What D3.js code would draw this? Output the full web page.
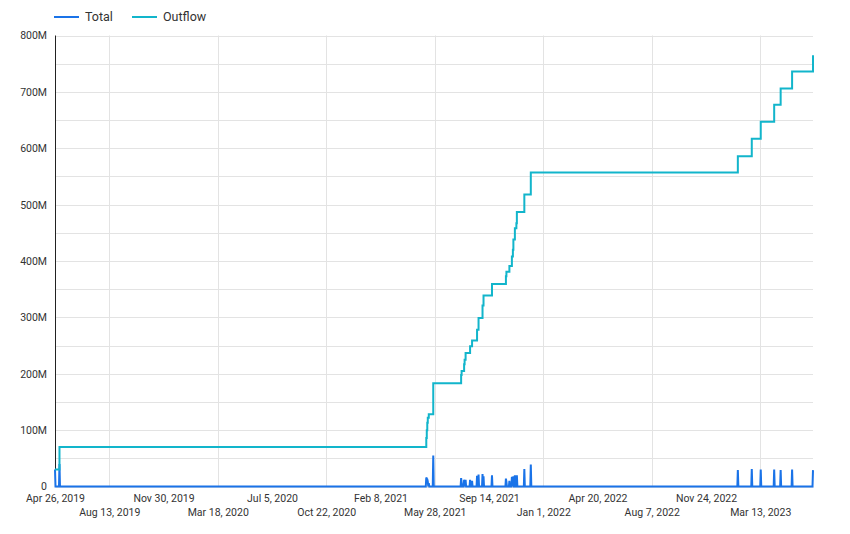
<!DOCTYPE html>
<html><head><meta charset="utf-8">
<script src="https://cdn.jsdelivr.net/npm/d3@7"></script>
<style>body{margin:0;background:#fff;} svg{display:block;font-family:Roboto, sans-serif;}</style>
</head><body><svg id="c" width="850" height="534"></svg>
<script>
// ---- data (values in millions) ----
const seriesNames = ["Total", "Outflow"];
const seriesColors = ["#1a73e8", "#12b5cb"];

const totalDates = ["2019-04-26","2019-05-05","2021-05-11","2021-05-12","2021-05-13","2021-05-14","2021-05-16","2021-05-25",
  "2021-07-20","2021-07-21","2021-07-26","2021-07-27","2021-07-29","2021-08-07","2021-08-11","2021-08-21","2021-08-24",
  "2021-09-01","2021-09-03","2021-09-20","2021-10-18","2021-10-19","2021-10-25","2021-10-30","2021-11-01","2021-11-02",
  "2021-11-05","2021-11-08","2021-11-09","2021-11-24","2021-12-07","2023-01-27","2023-02-24","2023-03-14","2023-04-10",
  "2023-04-23","2023-05-16","2023-06-27"];
const totalValues = [30,40,16,14,13,9,6,55,
  15,7,12,8,12,12,10,19,21,
  22,18,20,14,8,10,17,12,18,
  20,9,20,31,39,29,31,30,30,
  29,30,29];

const outflowDates = totalDates;
const outflowValues = [30,70,86,100,113,122,128,183,
  198,205,217,225,237,249,259,278,299,
  321,339,359,373,381,391,408,420,438,
  458,467,487,518,557,586,617,647,677,
  706,736,765];

const yTicks = [0,100,200,300,400,500,600,700,800];
const yGrid = [50,100,150,200,250,300,350,400,450,500,550,600,650,700,750,800];
const xTickLabels = ["Apr 26, 2019","Aug 13, 2019","Nov 30, 2019","Mar 18, 2020","Jul 5, 2020","Oct 22, 2020",
  "Feb 8, 2021","May 28, 2021","Sep 14, 2021","Jan 1, 2022","Apr 20, 2022","Aug 7, 2022","Nov 24, 2022","Mar 13, 2023"];
const domainStart = "2019-04-26", domainEnd = "2023-06-27";

// ---- drawing ----
const parse = d3.timeParse("%Y-%m-%d");
const parseLabel = d3.timeParse("%b %d, %Y");
const svg = d3.select("#c");

const x = d3.scaleTime().domain([parse(domainStart), parse(domainEnd)]).range([55, 813]);
const y = d3.scaleLinear().domain([0, 800]).range([486.5, 35.5]);

const tickDates = xTickLabels.map(parseLabel);

// gridlines
svg.append("g").selectAll("line").data(yGrid).join("line")
  .attr("x1", 55).attr("x2", 813)
  .attr("y1", d => Math.round(y(d)) + 0.5).attr("y2", d => Math.round(y(d)) + 0.5)
  .attr("stroke", "#e3e3e3").attr("stroke-width", 1);
svg.append("g").selectAll("line").data(tickDates.filter((d, i) => i % 2 === 1)).join("line")
  .attr("x1", d => Math.round(x(d)) + 0.5).attr("x2", d => Math.round(x(d)) + 0.5)
  .attr("y1", y(800)).attr("y2", y(0))
  .attr("stroke", "#e3e3e3").attr("stroke-width", 1);

// y axis
const yAxis = svg.append("g").attr("transform", "translate(55,0)")
  .call(d3.axisLeft(y).tickValues(yTicks).tickSize(0).tickPadding(8)
    .tickFormat(v => v === 0 ? "0" : v + "M"));
yAxis.select(".domain").remove();
yAxis.selectAll("text").attr("font-size", 10.5).attr("fill", "#333").attr("font-family", "Roboto, sans-serif");

// x axis
const xAxis = svg.append("g").attr("transform", `translate(0,${y(0)})`)
  .call(d3.axisBottom(x).tickValues(tickDates).tickSize(0).tickPadding(8)
    .tickFormat((d, i) => xTickLabels[i]));
xAxis.select(".domain").attr("stroke", "#ccc");
xAxis.selectAll("text").attr("font-size", 10.5).attr("fill", "#333").attr("font-family", "Roboto, sans-serif")
  .attr("y", (d, i) => i % 2 === 1 ? 22 : 8);

// left axis line
svg.append("line").attr("x1", 55.5).attr("x2", 55.5).attr("y1", y(800)).attr("y2", y(0))
  .attr("stroke", "#222").attr("stroke-width", 1);

// Total daily series (0 on days without a transaction)
const totalMap = new Map(totalDates.map((d, i) => [d, totalValues[i]]));
const fmt = d3.timeFormat("%Y-%m-%d");
const days = d3.timeDay.range(parse(domainStart), d3.timeDay.offset(parse(domainEnd), 1));
const totalSeries = days.map(d => ({ date: d, v: totalMap.get(fmt(d)) || 0 }));

svg.append("path").datum(totalSeries)
  .attr("fill", "none").attr("stroke", seriesColors[0]).attr("stroke-width", 2)
  .attr("d", d3.line().x(d => x(d.date)).y(d => y(d.v)));

// Outflow cumulative
const outSeries = outflowDates.map((d, i) => ({ date: parse(d), v: outflowValues[i] }));
svg.append("path").datum(outSeries)
  .attr("fill", "none").attr("stroke", seriesColors[1]).attr("stroke-width", 2)
  .attr("d", d3.line().curve(d3.curveStepAfter).x(d => x(d.date)).y(d => y(d.v)));

// legend
const legendX = [54, 132];
const lg = svg.append("g");
seriesNames.forEach((name, i) => {
  lg.append("line").attr("x1", legendX[i]).attr("x2", legendX[i] + 25).attr("y1", 17).attr("y2", 17)
    .attr("stroke", seriesColors[i]).attr("stroke-width", 2);
  lg.append("text").attr("x", legendX[i] + 31).attr("y", 17).attr("dy", "0.35em")
    .attr("font-size", 12.5).attr("fill", "#333").text(name);
});
</script></body></html>
